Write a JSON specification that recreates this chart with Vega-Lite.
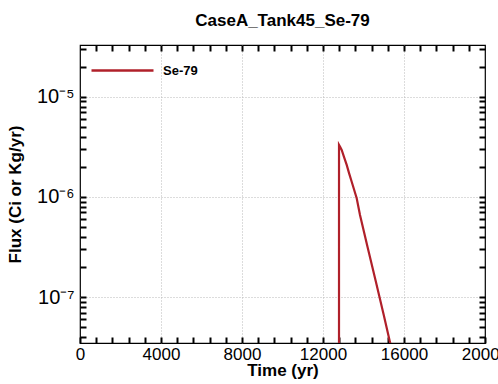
{
  "$schema": "https://vega.github.io/schema/vega-lite/v6.json",
  "width": 405,
  "height": 298,
  "autosize": {"type": "none"},
  "padding": {"left": 80, "top": 45, "right": 13, "bottom": 41},
  "background": "white",
  "config": {
    "font": "Liberation Sans",
    "view": {"stroke": "black", "strokeWidth": 1.2},
    "axis": {"domain": false, "labelColor": "black", "titleColor": "black"}
  },
  "title": {
    "text": "CaseA_Tank45_Se-79",
    "fontSize": 17,
    "fontWeight": "bold",
    "font": "Liberation Sans",
    "color": "black",
    "anchor": "middle",
    "baseline": "alphabetic",
    "offset": -5
  },
  "datasets": {
    "flux": [
      {"t": 12790, "flux": 1e-9, "series": "Se-79"},
      {"t": 12791, "flux": 3.31e-6, "series": "Se-79"},
      {"t": 12850, "flux": 3.15e-6, "series": "Se-79"},
      {"t": 12923, "flux": 2.95e-6, "series": "Se-79"},
      {"t": 13040, "flux": 2.5e-6, "series": "Se-79"},
      {"t": 13170, "flux": 2.09e-6, "series": "Se-79"},
      {"t": 13290, "flux": 1.72e-6, "series": "Se-79"},
      {"t": 13417, "flux": 1.42e-6, "series": "Se-79"},
      {"t": 13664, "flux": 9.7e-7, "series": "Se-79"},
      {"t": 13827, "flux": 6.6e-7, "series": "Se-79"},
      {"t": 14200, "flux": 3.16e-7, "series": "Se-79"},
      {"t": 14600, "flux": 1.45e-7, "series": "Se-79"},
      {"t": 15000, "flux": 6.6e-8, "series": "Se-79"},
      {"t": 15300, "flux": 3.6e-8, "series": "Se-79"},
      {"t": 15500, "flux": 2.45e-8, "series": "Se-79"}
    ]
  },
  "data": {"name": "flux"},
  "layer": [
    {
      "mark": {"type": "line", "clip": true, "strokeWidth": 2.2},
      "encoding": {
        "x": {
          "field": "t", "type": "quantitative",
          "scale": {"domain": [0, 20000], "nice": false, "zero": false},
          "axis": {
            "orient": "bottom",
            "title": "Time (yr)",
            "titleFontSize": 17, "titleFontWeight": "bold", "titlePadding": 0,
            "values": [0,800,1600,2400,3200,4000,4800,5600,6400,7200,8000,8800,9600,10400,11200,12000,12800,13600,14400,15200,16000,16800,17600,18400,19200,20000],
            "labelExpr": "datum.value % 4000 === 0 ? format(datum.value, 'd') : ''",
            "labelFontSize": 17, "labelFlush": false, "labelOverlap": false, "labelPadding": 3,
            "offset": -6, "tickSize": 6, "tickColor": "black", "tickWidth": 2,
            "grid": true, "gridDash": [1, 2], "gridColor": "#b8b8b8",
            "gridOpacity": {"condition": {"test": "datum.value % 4000 === 0 && datum.value > 0 && datum.value < 20000", "value": 1}, "value": 0}
          }
        },
        "y": {
          "field": "flux", "type": "quantitative",
          "scale": {"type": "log", "domain": [3.47e-8, 3.3e-5], "nice": false},
          "axis": {
            "orient": "left",
            "title": "Flux (Ci or Kg/yr)",
            "titleFontSize": 17, "titleFontWeight": "bold", "titlePadding": 12,
            "values": [4e-8,5e-8,6e-8,7e-8,8e-8,9e-8,1e-7,2e-7,3e-7,4e-7,5e-7,6e-7,7e-7,8e-7,9e-7,1e-6,2e-6,3e-6,4e-6,5e-6,6e-6,7e-6,8e-6,9e-6,1e-5,2e-5,3e-5],
            "labelExpr": "abs(log(datum.value)/LN10 - round(log(datum.value)/LN10)) < 0.001 ? (round(log(datum.value)/LN10) === -5 ? '10⁻⁵' : round(log(datum.value)/LN10) === -6 ? '10⁻⁶' : '10⁻⁷') : ''",
            "labelFontSize": 20, "labelOverlap": false, "labelPadding": 6, "labelFlush": false,
            "offset": -6, "tickSize": 6, "tickColor": "black", "tickWidth": 2,
            "grid": true, "gridDash": [1, 2], "gridColor": "#b8b8b8",
            "gridOpacity": {"condition": {"test": "abs(log(datum.value)/LN10 - round(log(datum.value)/LN10)) < 0.001", "value": 1}, "value": 0}
          }
        },
        "color": {
          "field": "series", "type": "nominal",
          "scale": {"domain": ["Se-79"], "range": ["#b0202a"]},
          "legend": {
            "title": null, "orient": "none", "legendX": 10, "legendY": -7,
            "symbolType": "stroke", "symbolSize": 3844, "symbolStrokeWidth": 2.5,
            "labelFontSize": 13, "labelFontWeight": "bold", "labelColor": "black", "labelOffset": 8
          }
        }
      }
    },
    {
      "mark": {"type": "line", "clip": true, "strokeOpacity": 0},
      "encoding": {
        "x": {"field": "t", "type": "quantitative",
          "axis": {"orient": "top", "title": null, "labels": false, "grid": false, "offset": -6, "tickSize": 6, "tickColor": "black", "tickWidth": 2,
            "values": [800,1600,2400,3200,4000,4800,5600,6400,7200,8000,8800,9600,10400,11200,12000,12800,13600,14400,15200,16000,16800,17600,18400,19200]}},
        "y": {"field": "flux", "type": "quantitative",
          "axis": {"orient": "right", "title": null, "labels": false, "grid": false, "offset": -6, "tickSize": 6, "tickColor": "black", "tickWidth": 2,
            "values": [4e-8,5e-8,6e-8,7e-8,8e-8,9e-8,1e-7,2e-7,3e-7,4e-7,5e-7,6e-7,7e-7,8e-7,9e-7,1e-6,2e-6,3e-6,4e-6,5e-6,6e-6,7e-6,8e-6,9e-6,1e-5,2e-5,3e-5]}}
      }
    }
  ],
  "resolve": {"axis": {"x": "independent", "y": "independent"}}
}
